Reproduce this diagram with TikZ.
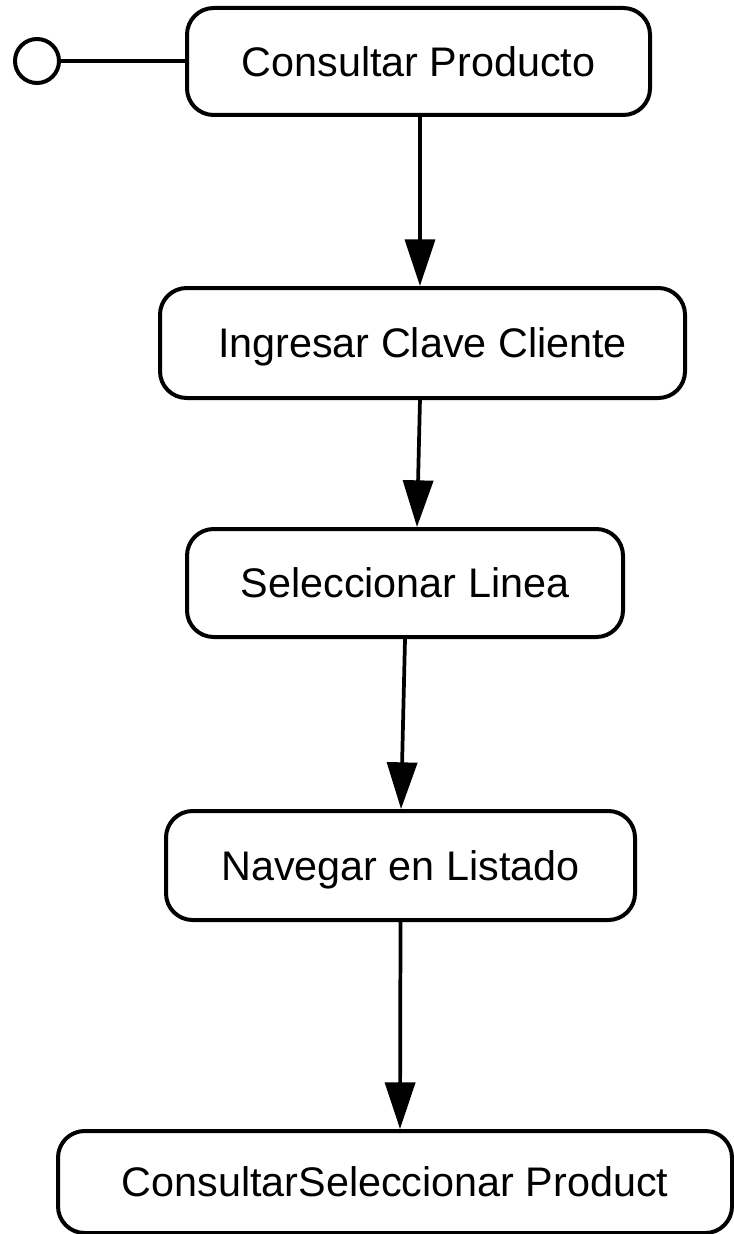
\documentclass[tikz,border=0pt]{standalone}
\usepackage{fontspec}
\setmainfont{Liberation Sans}
\usetikzlibrary{arrows.meta}
\begin{document}
\begin{tikzpicture}[x=0.75pt,y=-0.75pt,
  act/.style={draw=black, line width=3pt, rounded corners=20pt, fill=white,
    font=\fontsize{31}{37}\selectfont, text height=22.2pt, text depth=0pt,
    inner sep=0pt},
  flow/.style={draw=black, line width=2.8pt,
    -{Triangle[length=35pt,width=22.5pt]}},
  startnode/.style={circle, draw=black, line width=3pt, minimum size=33pt, inner sep=0pt}]
\useasboundingbox (0,0) rectangle (734,1234);
\clip (0,0) rectangle (734,1234);
\fill[white] (0,0) rectangle (734,1234);

\node[startnode] (init) at (37,61) {};
\node[act, minimum width=347.25pt, minimum height=80.25pt] (n1) at (418.5,61.5) {Consultar Producto};
\node[act, minimum width=393.75pt, minimum height=82.5pt] (n2) at (422.5,343) {Ingresar Clave Cliente};
\node[act, minimum width=327pt, minimum height=81pt] (n3) at (405,583) {Seleccionar Linea};
\node[act, minimum width=351.75pt, minimum height=81.75pt] (n4) at (400.5,865.5) {Navegar en Listado};
\node[act, minimum width=505.5pt, minimum height=76.5pt] (n5) at (395,1182) {ConsultarSeleccionar Product};

\draw[line width=2.8pt] (init.east) -- (init.east -| n1.west);
\draw[flow] ([xshift=1.1pt]n1.south) -- ([xshift=-1.9pt]n2.north);
\draw[flow] ([xshift=-1.9pt]n2.south) -- ([xshift=9pt]n3.north);
\draw[flow] (n3.south) -- ([xshift=0.4pt]n4.north);
\draw[flow] (n4.south) -- ([xshift=3.75pt]n5.north);
\end{tikzpicture}
\end{document}
